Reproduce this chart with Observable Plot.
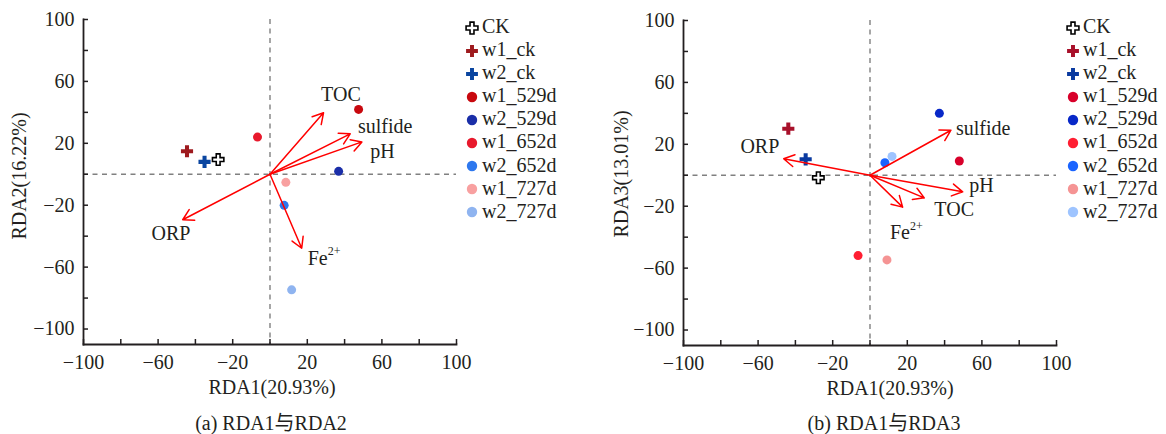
<!DOCTYPE html>
<html><head><meta charset="utf-8">
<script src="https://cdn.jsdelivr.net/npm/d3@7"></script>
<script src="https://cdn.jsdelivr.net/npm/@observablehq/plot@0.6"></script>
<style>
body{margin:0;background:#fff;font-family:"Liberation Serif","Noto Sans CJK SC",serif;color:#231f20;}
#wrap{position:relative;width:1166px;height:434px;overflow:hidden;}
.panel{position:absolute;}
.legend{position:absolute;font-size:20px;line-height:23.1px;}
.legend .row{display:flex;align-items:center;height:23.1px;white-space:nowrap;}
.legend svg{display:block;}
.caption{position:absolute;font-size:20px;white-space:nowrap;transform:translate(-50%,-50%);}
.ylab{position:absolute;font-size:20px;white-space:nowrap;transform:translate(-50%,-50%) rotate(-90deg);}
</style></head>
<body><div id="wrap"></div>
<script>
// ---- data ----
const groups = ["CK","w1_ck","w2_ck","w1_529d","w2_529d","w1_652d","w2_652d","w1_727d","w2_727d"];
const groupShapes = ["cross","cross","cross","circle","circle","circle","circle","circle","circle"];
const colorsA = ["#ffffff","#9e1a1e","#0a45a0","#c8080e","#1a2ea8","#e8192c","#2e78ee","#f8a0a0","#8fb4f0"];
const colorsB = ["#ffffff","#a8102a","#0a3aa0","#d8002a","#0828c8","#ff1e32","#1a64ff","#f59494","#9ec4ff"];
// panel (a): RDA1 vs RDA2
const rda1A = [-27.8,-44.5,-35.1,47.5,36.8,-6.7,7.6,8.5,11.6];
const rda2A = [9.5,14.9,8.0,41.9,1.9,24.0,-20.1,-5.2,-74.7];
// panel (b): RDA1 vs RDA3
const rda1B = [-27.7,-43.8,-34.5,47.9,37.2,-6.4,8.0,9.1,11.8];
const rda3B = [-1.6,30.1,10.3,9.2,40.0,-51.9,8.1,-54.7,12.2];
// environmental factor arrows
const factorBase = ["TOC","sulfide","pH","ORP","Fe"];
const factorSup  = ["","","","","2+"];
const arrowA1 = [28.7,43.0,49.3,-46.8,17.0];
const arrowA2 = [39.7,26.1,20.9,-29.4,-47.8];
const arrowB1 = [29.1,43.4,49.7,-46.3,17.5];
const arrowB3 = [-14.6,29.1,-10.7,10.7,-20.6];
// factor label anchors (data units, left edge of text)
const labelA1 = [27.4,47.2,53.8,-63.5,20.2];
const labelA2 = [51.2,30.7,14.9,-38.4,-54.2];
const labelB1 = [34.5,46.1,53.2,-69.5,10.7];
const labelB3 = [-22.1,30.4,-6.5,18.3,-37.2];
// axis ticks
const xTicks = [-100,-80,-60,-40,-20,0,20,40,60,80,100];
const xTickLabels = [-100,-60,-20,20,60,100];
const yTicks = [-100,-80,-60,-40,-20,0,20,40,60,80,100];
const yTickLabels = [-100,-60,-20,20,60,100];

const FONT = "Liberation Serif";
const INK = "#231f20";
const wrap = document.getElementById("wrap");

function addDiv(cls, text, left, top) {
  const d = document.createElement("div");
  d.className = cls; d.textContent = text;
  d.style.left = left + "px"; d.style.top = top + "px";
  wrap.appendChild(d);
  return d;
}

function panel({px, py, yLab, yLabX, yLabY, caption, capX, capY, xLabDx, colors, vx, vy, ax, ay, lx, ly}) {
  const idx = d3.range(groups.length);
  const crossIdx = idx.filter(i => groupShapes[i] === "cross" && i !== 0);
  const circIdx = idx.filter(i => groupShapes[i] === "circle");
  const fIdx = d3.range(factorBase.length);
  const supIdx = fIdx.filter(i => factorSup[i] !== "");
  const svg = Plot.plot({
    width: 462, height: 404,
    marginLeft: 83, marginRight: 6, marginTop: 19, marginBottom: 60,
    style: {fontFamily: FONT, fontSize: "20px", color: INK, background: "transparent", overflow: "visible"},
    x: {domain: [-100, 100]},
    y: {domain: [-110, 100]},
    color: {domain: groups, range: colors},
    marks: [
      Plot.ruleX([0], {stroke: "#808080", strokeWidth: 1.4, strokeDasharray: "5,4.5"}),
      Plot.ruleY([0], {stroke: "#808080", strokeWidth: 1.4, strokeDasharray: "5,4.5"}),
      Plot.frame({anchor: "left", stroke: INK, strokeWidth: 1.8}),
      Plot.frame({anchor: "bottom", stroke: INK, strokeWidth: 1.8}),
      Plot.axisX(xTicks, {tickSize: 5, dy: -5, tickFormat: () => "", label: null, stroke: INK, strokeWidth: 1.5}),
      Plot.axisY(yTicks, {tickSize: 5, dx: 5, tickFormat: () => "", label: null, stroke: INK, strokeWidth: 1.5}),
      Plot.axisX(xTickLabels, {tickSize: 0, tickPadding: 10, label: null, fontSize: 20, fill: INK}),
      Plot.axisY(yTickLabels, {tickSize: 0, tickPadding: 9, label: null, fontSize: 20, fill: INK}),
      Plot.text(["RDA1(20.93%)"], {text: d => d, frameAnchor: "bottom", dy: 49, dx: xLabDx, fontSize: 20, fill: INK}),
      Plot.dot([0], {x: i => vx[i], y: i => vy[i], symbol: "cross", r: 4.8, fill: "white", stroke: "black", strokeWidth: 1.6}),
      Plot.dot(crossIdx, {x: i => vx[i], y: i => vy[i], symbol: "cross", r: 5.1, fill: i => groups[i]}),
      Plot.dot(circIdx, {x: i => vx[i], y: i => vy[i], symbol: "circle", r: 4.5, fill: i => groups[i]}),
      Plot.arrow(fIdx, {x1: 0, y1: 0, x2: i => ax[i], y2: i => ay[i], stroke: "#ff0000", strokeWidth: 1.5, headLength: 12, headAngle: 60}),
      Plot.text(fIdx, {x: i => lx[i], y: i => ly[i], text: i => factorBase[i], textAnchor: "start", fontSize: 20, fill: INK}),
      Plot.text(supIdx, {x: i => lx[i], y: i => ly[i], text: i => factorSup[i], textAnchor: "start", dx: 20, dy: -7, fontSize: 12, fill: INK})
    ]
  });
  const div = document.createElement("div");
  div.className = "panel";
  div.style.left = px + "px"; div.style.top = py + "px";
  div.appendChild(svg);
  wrap.appendChild(div);
  addDiv("ylab", yLab, yLabX, yLabY);
  addDiv("caption", caption, capX, capY);
}

function legend(left, top, colors) {
  const lg = document.createElement("div");
  lg.className = "legend";
  lg.style.left = left + "px"; lg.style.top = top + "px";
  groups.forEach((g, i) => {
    const row = document.createElement("div");
    row.className = "row";
    const s = d3.create("svg").attr("width", 18).attr("height", 18);
    const isCross = groupShapes[i] === "cross";
    const sym = d3.symbol(isCross ? d3.symbolCross : d3.symbolCircle, isCross ? 78 : 85)();
    s.append("path").attr("d", sym).attr("transform", "translate(9,10)")
      .attr("fill", colors[i]).attr("stroke", i === 0 ? "black" : "none").attr("stroke-width", 1.6);
    row.appendChild(s.node());
    const t = document.createElement("span");
    t.textContent = g;
    t.style.marginLeft = "1px";
    row.appendChild(t);
    lg.appendChild(row);
  });
  wrap.appendChild(lg);
}

panel({px: 0, py: 0, yLab: "RDA2(16.22%)", yLabX: 19, yLabY: 176, caption: "(a) RDA1与RDA2", capX: 271, capY: 421, xLabDx: 2,
  colors: colorsA, vx: rda1A, vy: rda2A, ax: arrowA1, ay: arrowA2, lx: labelA1, ly: labelA2});
panel({px: 600, py: 1, yLab: "RDA3(13.01%)", yLabX: 621, yLabY: 174, caption: "(b) RDA1与RDA3", capX: 884, capY: 421, xLabDx: 20,
  colors: colorsB, vx: rda1B, vy: rda3B, ax: arrowB1, ay: arrowB3, lx: labelB1, ly: labelB3});
legend(463, 15, colorsA);
legend(1064, 15, colorsB);
</script>
</body></html>
